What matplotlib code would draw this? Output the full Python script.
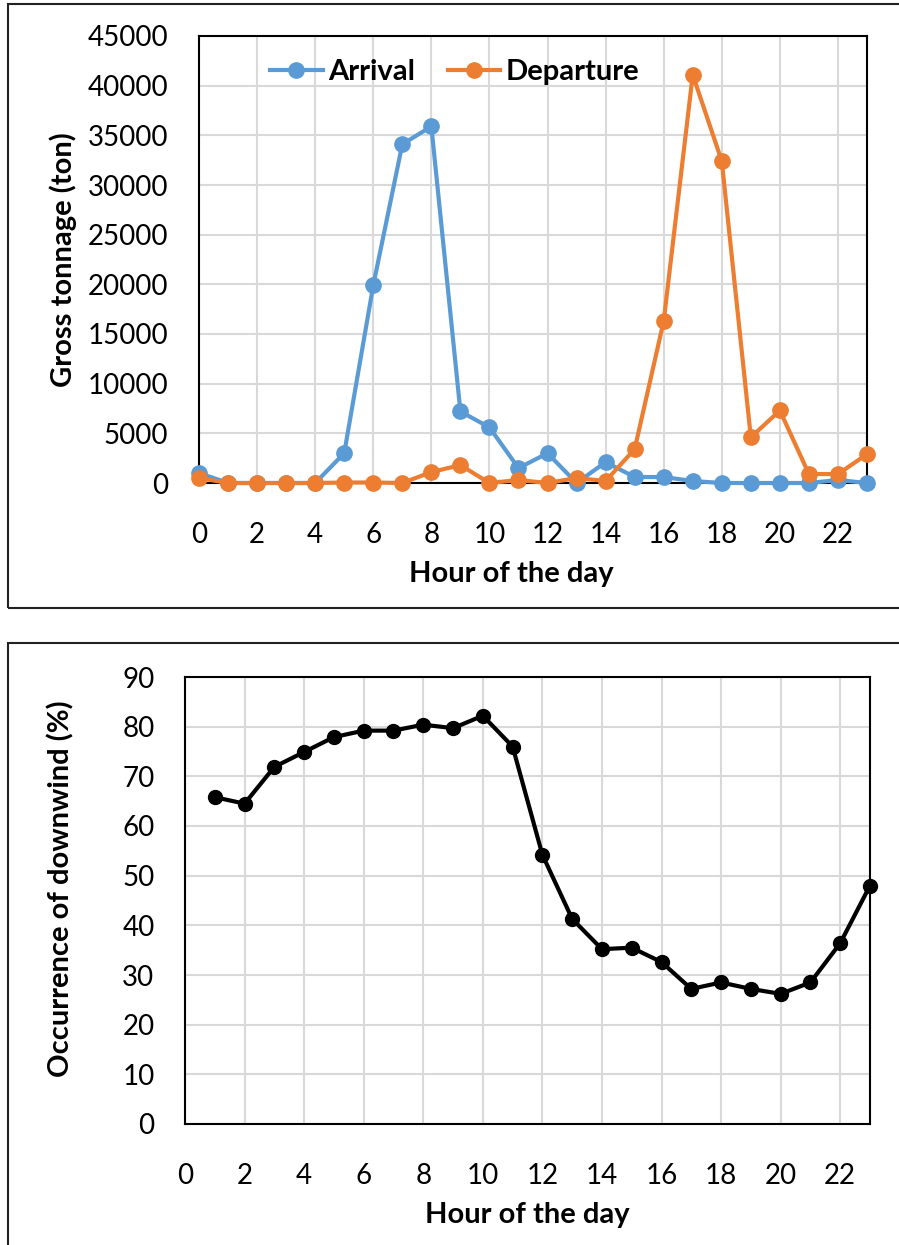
import numpy as np
import matplotlib
matplotlib.use("Agg")
import matplotlib.pyplot as plt
import matplotlib.patches as mpatches

plt.rcParams['font.family'] = ['Lato', 'DejaVu Sans']

# Data
hours = list(range(24))
arrival = [1000, 0, 0, 0, 0, 3000, 19900, 34100, 35900, 7200, 5600, 1500,
           3000, 0, 2100, 600, 600, 200, 0, 0, 0, 0, 300, 0]
departure = [500, 0, 0, 0, 0, 50, 50, 0, 1100, 1800, 0, 300,
             0, 500, 200, 3400, 16300, 41100, 32400, 4600, 7300, 900, 900, 2900]

wind_hours = list(range(1, 24))
downwind = [65.8, 64.5, 71.9, 74.9, 77.9, 79.2, 79.2, 80.4, 79.7, 82.2, 76.0,
            54.2, 41.3, 35.2, 35.5, 32.6, 27.2, 28.5, 27.2, 26.2, 28.5, 36.4, 48.0]

W, H = 899, 1245
fig = plt.figure(figsize=(W / 100, H / 100), dpi=100)

BLUE = '#5B9BD5'
ORANGE = '#ED7D31'
GRID = '#D9D9D9'
FS = 20
LFS = 21


def px_axes(x0, y0, x1, y1):
    # pixel box (top-left origin) -> figure axes
    return fig.add_axes([x0 / W, (H - y1) / H, (x1 - x0) / W, (y1 - y0) / H])


def style(ax, ymax, ystep):
    ax.set_xlim(0, 23)
    ax.set_ylim(0, ymax)
    ax.set_xticks(range(0, 23, 2))
    ax.set_yticks(np.arange(0, ymax + 1, ystep))
    ax.grid(True, color=GRID, linewidth=1.5)
    ax.set_axisbelow(True)
    for s in ax.spines.values():
        s.set_color('black')
        s.set_linewidth(1.5)
    ax.tick_params(length=0, labelsize=FS, pad=22)
    ax.tick_params(axis='x', pad=28)


# outer chart frames
for (x0, y0, x1, y1) in [(8, 4, 905, 608), (8, 643, 905, 1252)]:
    fig.patches.append(mpatches.Rectangle((x0 / W, (H - y1) / H), (x1 - x0) / W, (y1 - y0) / H,
                                          transform=fig.transFigure, fill=False,
                                          edgecolor='#222222', linewidth=1.5))

# top chart
ax1 = px_axes(199, 36, 867, 483)
style(ax1, 45000, 5000)
ax1.plot(hours, arrival, color=BLUE, lw=3, marker='o', ms=11, label='Arrival', clip_on=False, zorder=3)
ax1.plot(hours, departure, color=ORANGE, lw=3, marker='o', ms=11, label='Departure', clip_on=False, zorder=4)
ax1.set_xlabel('Hour of the day', fontsize=LFS, fontweight='bold')
ax1.xaxis.set_label_coords(0.467, -0.175)
ax1.set_ylabel('Gross tonnage (ton)', fontsize=LFS, fontweight='bold')
ax1.yaxis.set_label_coords(-0.183, 0.5)
ax1.legend(loc='center', bbox_to_anchor=(0.383, 0.919), ncol=2, frameon=False,
           prop={'size': 21, 'weight': 'bold'}, handlelength=1.8, handletextpad=0.2,
           columnspacing=1.1, borderaxespad=0.0)

# bottom chart
ax2 = px_axes(185, 677, 870, 1124)
style(ax2, 90, 10)
ax2.plot(wind_hours, downwind, color='black', lw=3, marker='o', ms=10, clip_on=False, zorder=3)
ax2.set_xlabel('Hour of the day', fontsize=LFS, fontweight='bold')
ax2.xaxis.set_label_coords(0.5, -0.175)
ax2.set_ylabel('Occurrence of downwind (%)', fontsize=LFS, fontweight='bold')
ax2.yaxis.set_label_coords(-0.162, 0.526)

fig.savefig('out.png', dpi=100)
